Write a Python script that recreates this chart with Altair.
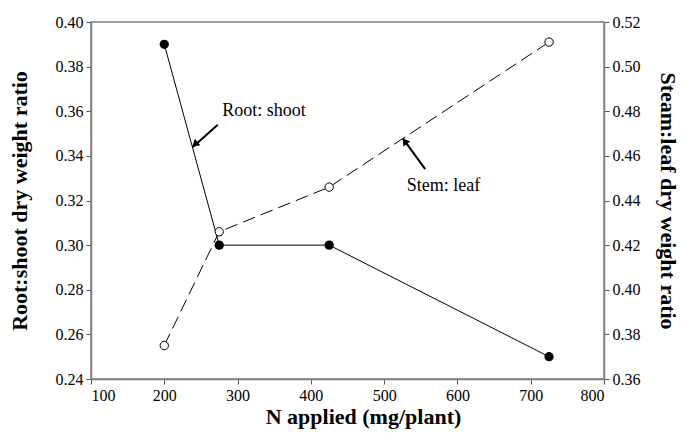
import altair as alt
import pandas as pd

# ---- data ----
n_applied = [200, 275, 425, 725]
root_shoot = [0.390, 0.300, 0.300, 0.250]
stem_leaf = [0.375, 0.426, 0.446, 0.511]

x_ticks = [100, 200, 300, 400, 500, 600, 700, 800]
left_ticks = [0.24, 0.26, 0.28, 0.30, 0.32, 0.34, 0.36, 0.38, 0.40]
right_ticks = [0.36, 0.38, 0.40, 0.42, 0.44, 0.46, 0.48, 0.50, 0.52]

# annotations (data coordinates)
root_text = ["Root: shoot"]
root_text_n = [279]
root_text_v = [0.360]
root_arrow_n = [273, 239]
root_arrow_v = [0.354, 0.344]
root_head_n = [243]
root_head_v = [0.3455]

stem_text = ["Stem: leaf"]
stem_text_n = [531]
stem_text_v = [0.4465]
stem_arrow_n = [556, 526]
stem_arrow_v = [0.4541, 0.4676]
stem_head_n = [529]
stem_head_v = [0.4662]

FONT = "Liberation Serif, Times New Roman, serif"

root_df = pd.DataFrame({"N": n_applied, "ratio": root_shoot})
stem_df = pd.DataFrame({"N": n_applied, "ratio": stem_leaf})

axis_common = dict(labelFont=FONT, labelFontSize=16, labelColor="black",
                   labelFontWeight="normal",
                   titleFont=FONT, titleFontSize=22, titleFontWeight="bold",
                   titleColor="black", labelPadding=3)

xenc = alt.X("N:Q", scale=alt.Scale(domain=[100, 800], nice=False),
             axis=alt.Axis(values=x_ticks, title="N applied (mg/plant)", titlePadding=3,
                           titleX=272, **axis_common))

yl_scale = alt.Scale(domain=[0.24, 0.40], nice=False, zero=False)
yr_scale = alt.Scale(domain=[0.36, 0.52], nice=False, zero=False)

yl = alt.Y("ratio:Q", scale=yl_scale,
           axis=alt.Axis(values=left_ticks, format=".2f", title="Root:shoot dry weight ratio",
                         titlePadding=24, **axis_common))
yr = alt.Y("ratio:Q", scale=yr_scale,
           axis=alt.Axis(values=right_ticks, format=".2f", orient="right",
                         title="Steam:leaf dry weight ratio", titlePadding=15, **axis_common))

root_line = alt.Chart(root_df).mark_line(color="black", strokeWidth=1).encode(x=xenc, y=yl)
root_pts = alt.Chart(root_df).mark_point(shape="circle", filled=True, color="black",
                                         size=85, opacity=1).encode(x="N:Q", y="ratio:Q")

root_arrow = alt.Chart(pd.DataFrame({"N": root_arrow_n, "ratio": root_arrow_v})).mark_line(
    color="black", strokeWidth=2).encode(x="N:Q", y="ratio:Q")
root_head = alt.Chart(pd.DataFrame({"N": root_head_n, "ratio": root_head_v})).mark_point(
    shape="triangle", filled=True, color="black", size=70, angle=229, opacity=1).encode(
    x="N:Q", y="ratio:Q")
root_lab = alt.Chart(pd.DataFrame({"N": root_text_n, "ratio": root_text_v, "t": root_text})).mark_text(
    font=FONT, fontSize=18, align="left", baseline="middle", color="black").encode(
    x="N:Q", y="ratio:Q", text="t:N")

left = alt.layer(root_line, root_pts, root_arrow, root_head, root_lab)

stem_line = alt.Chart(stem_df).mark_line(color="black", strokeWidth=1,
                                         strokeDash=[13, 6]).encode(x=xenc, y=yr)
stem_pts = alt.Chart(stem_df).mark_point(shape="circle", filled=True, fill="white",
                                         stroke="black", strokeWidth=1, size=70,
                                         opacity=1).encode(x="N:Q", y="ratio:Q")
stem_arrow = alt.Chart(pd.DataFrame({"N": stem_arrow_n, "ratio": stem_arrow_v})).mark_line(
    color="black", strokeWidth=2).encode(x="N:Q", y="ratio:Q")
stem_head = alt.Chart(pd.DataFrame({"N": stem_head_n, "ratio": stem_head_v})).mark_point(
    shape="triangle", filled=True, color="black", size=70, angle=324, opacity=1).encode(
    x="N:Q", y="ratio:Q")
stem_lab = alt.Chart(pd.DataFrame({"N": stem_text_n, "ratio": stem_text_v, "t": stem_text})).mark_text(
    font=FONT, fontSize=18, align="left", baseline="middle", color="black").encode(
    x="N:Q", y="ratio:Q", text="t:N")

right = alt.layer(stem_line, stem_pts, stem_arrow, stem_head, stem_lab)

chart = alt.layer(left, right).resolve_scale(y="independent").properties(
    width=513, height=357,
    autosize=alt.AutoSizeParams(type="none"),
    padding={"left": 91, "top": 22, "right": 79, "bottom": 58},
    background="white",
).configure(font=FONT).configure_view(stroke="#808080", strokeWidth=1.5).configure_axis(
    labelFont=FONT, titleFont=FONT,
    domainColor="#808080", domainWidth=1.5, tickColor="#555555", tickSize=5, grid=False,
)

chart.save("out.html", embed_options={"renderer": "svg", "actions": False})
